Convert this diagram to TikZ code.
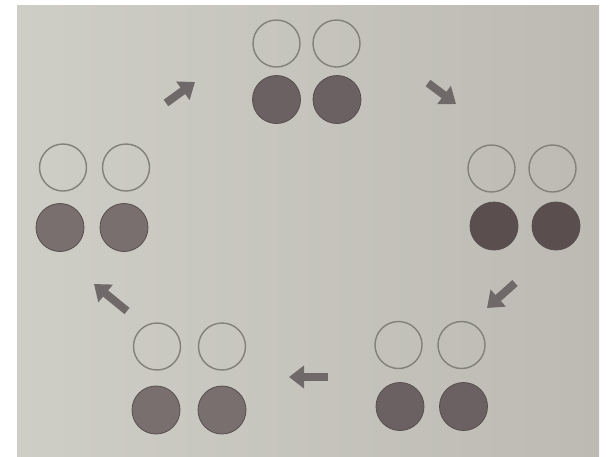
\documentclass[tikz,border=0pt]{standalone}
\usetikzlibrary{arrows.meta}
\definecolor{paper}{HTML}{CFCEC6}
\definecolor{paperdark}{HTML}{BCBAB2}
\definecolor{ringc}{HTML}{828179}
\definecolor{discc}{HTML}{6C6162}
\definecolor{discdark}{HTML}{5A4E4F}
\definecolor{disclight}{HTML}{7A6F6F}
\definecolor{arrowc}{HTML}{6F6969}
\tikzset{
  ring/.style={circle, draw=ringc, line width=1.4pt, minimum size=47pt, inner sep=0pt},
  disc/.style={circle, draw=discc!80!black, line width=0.8pt, fill=discc, minimum size=48pt, inner sep=0pt},
  cyclearrow/.style={draw=arrowc, line width=8pt, -{Triangle[width=22pt,length=15pt]}}
}
\begin{document}
\begin{tikzpicture}[x=1pt,y=-1pt]
\useasboundingbox (0,0) rectangle (613,456);
\fill[white] (0,0) rectangle (613,456);
\shade[left color=paper, right color=paperdark] (17,5) rectangle (599,456);
% top group
\node[ring] (t1) at (276.5,43.5) {};
\node[ring] (t2) at (336.5,43.5) {};
\node[disc] (t3) at (276.5,99.5) {};
\node[disc] (t4) at (337,99.5) {};
% right group
\node[ring] (r1) at (491.5,168.5) {};
\node[ring] (r2) at (552.5,168.5) {};
\node[disc, fill=discdark] (r3) at (494,226) {};
\node[disc, fill=discdark] (r4) at (556,226) {};
% left group
\node[ring] (l1) at (63,167.5) {};
\node[ring] (l2) at (126,167.5) {};
\node[disc, fill=disclight] (l3) at (60,227.5) {};
\node[disc, fill=disclight] (l4) at (124,227.5) {};
% bottom-left group
\node[ring] (bl1) at (157,346.5) {};
\node[ring] (bl2) at (222,346.5) {};
\node[disc, fill=disclight] (bl3) at (156,410) {};
\node[disc, fill=disclight] (bl4) at (222,410) {};
% bottom-right group
\node[ring] (br1) at (398.5,345) {};
\node[ring] (br2) at (461.5,345) {};
\node[disc] (br3) at (400,406.5) {};
\node[disc] (br4) at (463.5,406.5) {};
% arrows
\coordinate (a1s) at (166,103); \coordinate (a1e) at (195,82);
\coordinate (a2s) at (428,83);  \coordinate (a2e) at (456,104);
\coordinate (a3s) at (515,283); \coordinate (a3e) at (487,308);
\coordinate (a4s) at (328,377); \coordinate (a4e) at (289,377);
\coordinate (a5s) at (127,311); \coordinate (a5e) at (94,284);
\draw[cyclearrow] (a1s) -- (a1e);
\draw[cyclearrow] (a2s) -- (a2e);
\draw[cyclearrow] (a3s) -- (a3e);
\draw[cyclearrow] (a4s) -- (a4e);
\draw[cyclearrow] (a5s) -- (a5e);
\end{tikzpicture}
\end{document}
